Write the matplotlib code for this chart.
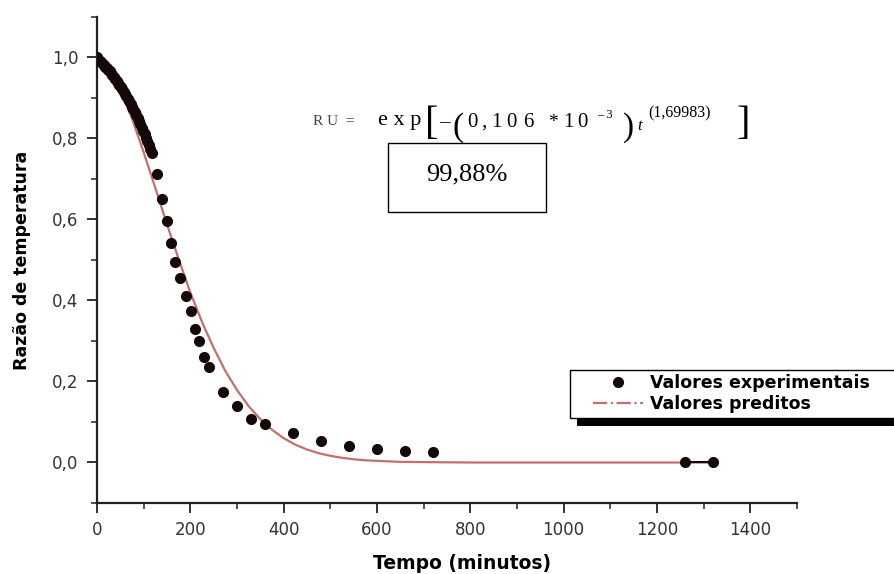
import matplotlib.pyplot as plt
import matplotlib.ticker as mticker
from matplotlib.lines import Line2D
from matplotlib.patches import Rectangle

# experimental points (time in minutes, temperature ratio)
exp_time = [0, 3, 6, 9, 12, 15, 18, 21, 24, 27, 30, 33, 36, 39, 42, 45, 48,
            51, 54, 57, 60, 63, 66, 69, 72, 75, 78, 81, 84, 87, 90, 93, 96,
            99, 102, 105, 108, 111, 114, 117,
            128, 139, 150, 158, 167, 178, 190, 201, 210, 219, 229, 240,
            270, 300, 330, 360, 420, 480, 540, 600, 660, 720, 1260, 1320]
exp_ratio = [1.000, 0.996, 0.992, 0.988, 0.985, 0.981, 0.977, 0.973, 0.970,
             0.966, 0.961, 0.957, 0.952, 0.947, 0.943, 0.938, 0.933, 0.928,
             0.922, 0.916, 0.910, 0.904, 0.898, 0.892, 0.885, 0.878, 0.872,
             0.865, 0.858, 0.850, 0.843, 0.835, 0.827, 0.819, 0.811, 0.802,
             0.793, 0.784, 0.775, 0.765,
             0.713, 0.651, 0.597, 0.542, 0.495, 0.455, 0.41, 0.374, 0.33,
             0.30, 0.26, 0.235, 0.174, 0.139, 0.108, 0.094, 0.072, 0.052,
             0.040, 0.034, 0.028, 0.025, 0.0, 0.0]

# predicted curve
pred_time = [0, 25, 50, 75, 100, 125, 150, 175, 200, 225, 250, 275, 300, 325,
             350, 375, 400, 425, 450, 475, 500, 525, 550, 575, 600, 650, 700,
             800, 1000, 1320]
pred_ratio = [1.0, 0.975, 0.921, 0.849, 0.766, 0.678, 0.588, 0.502, 0.42,
              0.347, 0.283, 0.226, 0.179, 0.139, 0.107, 0.081, 0.060, 0.044,
              0.032, 0.023, 0.0165, 0.0116, 0.008, 0.0055, 0.004, 0.0016,
              0.001, 0.0, 0.0, 0.0]

red = "#c46e6e"
dot = "#150808"

fig = plt.figure(figsize=(8.94, 5.74), dpi=100)
ax = fig.add_axes([0.1085, 0.1237, 0.783, 0.8467])

ax.plot(pred_time, pred_ratio, color=red, lw=1.6, zorder=2)
ax.plot(exp_time, exp_ratio, "o", color=dot, ms=7, zorder=3)
ax.plot(exp_time[-2:], exp_ratio[-2:], "-", color=dot, lw=1.5, zorder=3)

ax.set_xlim(0, 1500)
ax.set_ylim(-0.1, 1.1)
ax.xaxis.set_major_locator(mticker.MultipleLocator(200))
ax.xaxis.set_minor_locator(mticker.MultipleLocator(100))
ax.yaxis.set_major_locator(mticker.FixedLocator([0, 0.2, 0.4, 0.6, 0.8, 1.0]))
ax.yaxis.set_minor_locator(mticker.MultipleLocator(0.1))
ax.yaxis.set_major_formatter(
    mticker.FuncFormatter(lambda v, p: f"{v:.1f}".replace(".", ",")))

for side in ["top", "right"]:
    ax.spines[side].set_visible(False)
for side in ["left", "bottom"]:
    ax.spines[side].set_linewidth(1.6)
    ax.spines[side].set_color("#222222")
ax.tick_params(which="major", length=7, width=1.3, labelsize=12, labelcolor="#333333",
               color="#222222")
ax.tick_params(which="minor", length=4, width=1.1, color="#222222")
ax.tick_params(axis="x", pad=6)
ax.tick_params(axis="y", pad=6.5)

ax.set_xlabel("Tempo (minutos)", fontsize=13.5, fontweight="bold")
ax.xaxis.set_label_coords(0.521, -0.104)
ax.set_ylabel("Razão de temperatura", fontsize=12.5, fontweight="bold", labelpad=15)

# equation, built piece by piece (offsets in pixels from the left of "RU")
serif = "Liberation Serif"
eq_y = 0.829
pieces = [
    ("R U  =", 0, 11, 2, "normal", "#444444"),
    ("e x p", 65, 16, 2, "normal", "black"),
    ("[", 112, 29, -7, "normal", "black"),
    ("–", 126, 15, 0, "normal", "black"),
    ("(", 139, 24, -9, "normal", "black"),
    ("0", 154, 15, 0, "normal", "black"),
    (",", 168, 15, 0, "normal", "black"),
    ("1", 178, 15, 0, "normal", "black"),
    ("0", 193, 15, 0, "normal", "black"),
    ("6", 210, 15, 0, "normal", "black"),
    ("*", 235, 14, 0, "normal", "black"),
    ("1", 250, 15, 0, "normal", "black"),
    ("0", 264, 15, 0, "normal", "black"),
    ("– 3", 284, 9, 9, "normal", "black"),
    (")", 310, 24, -9, "normal", "black"),
    ("t", 324, 12, -3, "italic", "black"),
    ("(1,69983)", 335, 11.5, 9, "normal", "black"),
    ("]", 424, 29, -7, "normal", "black"),
]
for txt, dx, size, dy, style, col in pieces:
    ax.annotate(txt, xy=(463, eq_y), xycoords="data", xytext=(dx, dy),
                textcoords="offset pixels", fontsize=size, family=serif,
                style=style, color=col, ha="left", va="baseline")

ax.add_patch(Rectangle((623, 0.619), 339, 0.171, fill=False, ec="black", lw=1.0))
ax.text(792, 0.71, "99,88%", fontsize=19, family=serif,
        ha="center", va="center")

# legend: frame and shadow drawn by hand (in figure pixels)
handles = [Line2D([], [], ls="none", marker="o", color=dot, ms=7),
           Line2D([], [], ls="-.", color=red, lw=1.6)]
leg = fig.legend(handles, ["Valores experimentais", "Valores preditos"],
                 loc="upper left", bbox_to_anchor=(0.659, 0.355),
                 frameon=False, prop={"weight": "bold", "size": 12.5},
                 handlelength=2.9, borderpad=0.2, labelspacing=0.2,
                 handletextpad=0.4, borderaxespad=0)
H = 574
fig.add_artist(Rectangle((577, H - 426), 340, 48, transform=None,
                         fc="black", ec="none", zorder=4))
fig.add_artist(Rectangle((570, H - 418), 340, 48, transform=None,
                         fc="white", ec="black", lw=1.0, zorder=4.5))
leg.set_zorder(5)

fig.savefig("out.png", dpi=100)
